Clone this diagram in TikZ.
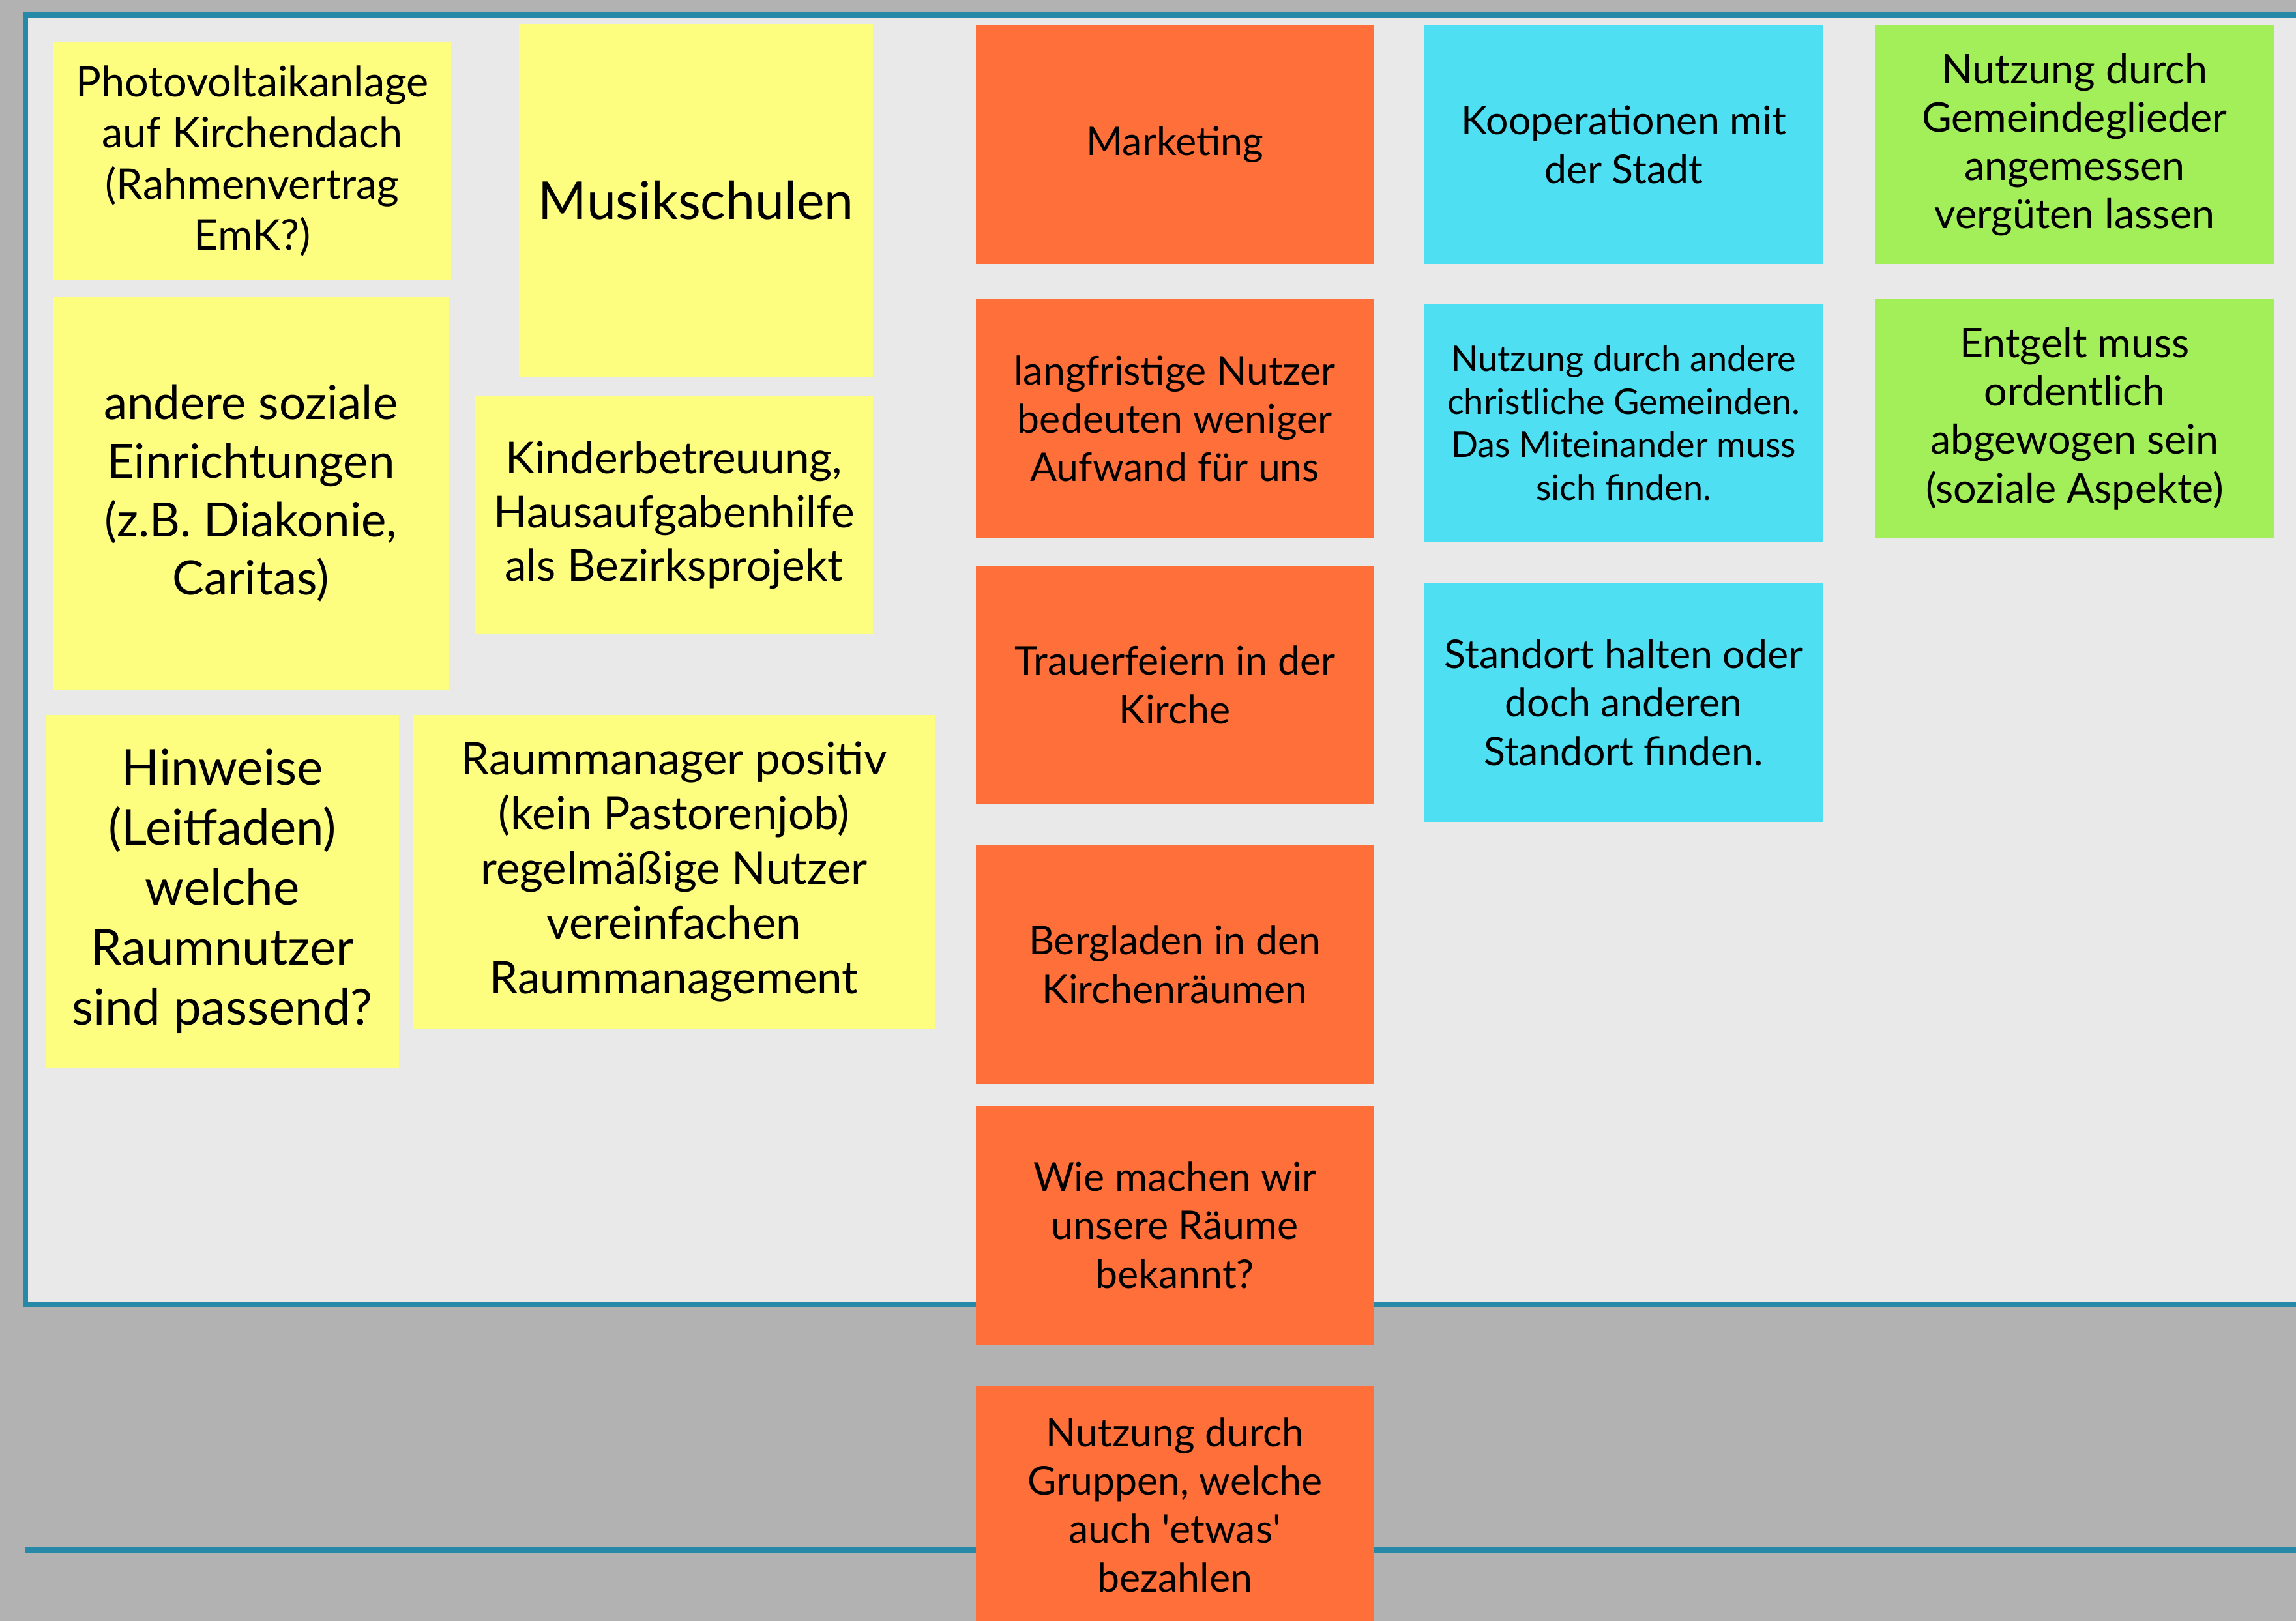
\documentclass[tikz,border=0pt]{standalone}
\usepackage{fontspec}
\setmainfont{Lato}
\usetikzlibrary{positioning}

\definecolor{boardgray}{HTML}{B2B2B2}
\definecolor{panelgray}{HTML}{E9E9E9}
\definecolor{frameteal}{HTML}{2689A8}
\definecolor{noteyellow}{HTML}{FDFD80}
\definecolor{noteorange}{HTML}{FF6F3A}
\definecolor{notecyan}{HTML}{4EDFF2}
\definecolor{notegreen}{HTML}{A3EF5A}

\begin{document}
\begin{tikzpicture}[
        x=0.02cm, y=-0.02cm,
        note/.style={rectangle, anchor=north west, inner sep=0pt, align=center,
            minimum width=5.44cm, minimum height=3.26cm, font=\fontsize{15.4}{18.8}\selectfont},
        yellownote/.style={note, fill=noteyellow},
        orangenote/.style={note, fill=noteorange},
        cyannote/.style={note, fill=notecyan, minimum width=5.46cm},
        greennote/.style={note, fill=notegreen, minimum width=5.46cm, font=\fontsize{15.9}{18.8}\selectfont},
        frame/.style={draw=frameteal, line width=0.07cm}
    ]
    \useasboundingbox (0,0) rectangle (1568,1107);
    \clip (0,0) rectangle (1568,1107);
    % board
    \fill[boardgray] (0,0) rectangle (1568,1107);
    \filldraw[fill=panelgray, frame] (17.4,10.3) rectangle (1620,891);
    \coordinate (lineL) at (17.3,1058.6);
    \coordinate (lineR) at (1620,1058.6);
    \draw[frame, line width=0.08cm] (lineL) -- (lineR);

    % yellow notes
    \node[yellownote, font=\fontsize{16.4}{19.9}\selectfont] (photo) at (36,28) {Photovoltaikanlage\\auf Kirchendach\\(Rahmenvertrag\\EmK?)};
    \node[yellownote, minimum width=4.84cm, minimum height=4.82cm, font=\fontsize{20.4}{24}\selectfont] (musik) at (354,16) {Musikschulen};
    \node[yellownote, minimum width=5.40cm, minimum height=5.38cm, font=\fontsize{18.4}{22.8}\selectfont] (sozial) at (36,202) {andere soziale\\Einrichtungen\\(z.B. Diakonie,\\Caritas)};
    \node[yellownote, font=\fontsize{17.1}{20.8}\selectfont] (kinder) at (324,270) {Kinderbetreuung,\\Hausaufgabenhilfe\\als Bezirksprojekt};
    \node[yellownote, minimum width=4.82cm, minimum height=4.82cm, font=\fontsize{19.3}{23.3}\selectfont] (hinweise) at (31,488) {Hinweise\\(Leitfaden)\\welche\\Raumnutzer\\sind passend?};
    \node[yellownote, minimum width=7.12cm, minimum height=4.28cm, font=\fontsize{17.5}{21.3}\selectfont] (raum) at (282,488) {Raummanager positiv\\(kein Pastorenjob)\\regelmäßige Nutzer\\vereinfachen\\Raummanagement};

    % orange notes
    \node[orangenote] (marketing) at (666,17) {Marketing};
    \node[orangenote] (langfristig) at (666,204) {langfristige Nutzer\\bedeuten weniger\\Aufwand für uns};
    \node[orangenote] (trauer) at (666,386) {Trauerfeiern in der\\Kirche};
    \node[orangenote] (berg) at (666,577) {Bergladen in den\\Kirchenräumen};
    \node[orangenote] (bekannt) at (666,755) {Wie machen wir\\unsere Räume\\bekannt?};
    \node[orangenote] (gruppen) at (666,946) {Nutzung durch\\Gruppen, welche\\auch \textquotesingle etwas\textquotesingle\\bezahlen};

    % cyan notes
    \node[cyannote] (stadt) at (972,17) {Kooperationen mit\\der Stadt};
    \node[cyannote, font=\fontsize{13.7}{16.8}\selectfont] (christlich) at (972,207) {Nutzung durch andere\\christliche Gemeinden.\\Das Miteinander muss\\sich finden.};
    \node[cyannote] (standort) at (972,398) {Standort halten oder\\doch anderen\\Standort finden.};

    % green notes
    \node[greennote] (verguetung) at (1280,17) {Nutzung durch\\Gemeindeglieder\\angemessen\\vergüten lassen};
    \node[greennote] (entgelt) at (1280,204) {Entgelt muss\\ordentlich\\abgewogen sein\\(soziale Aspekte)};
\end{tikzpicture}
\end{document}
